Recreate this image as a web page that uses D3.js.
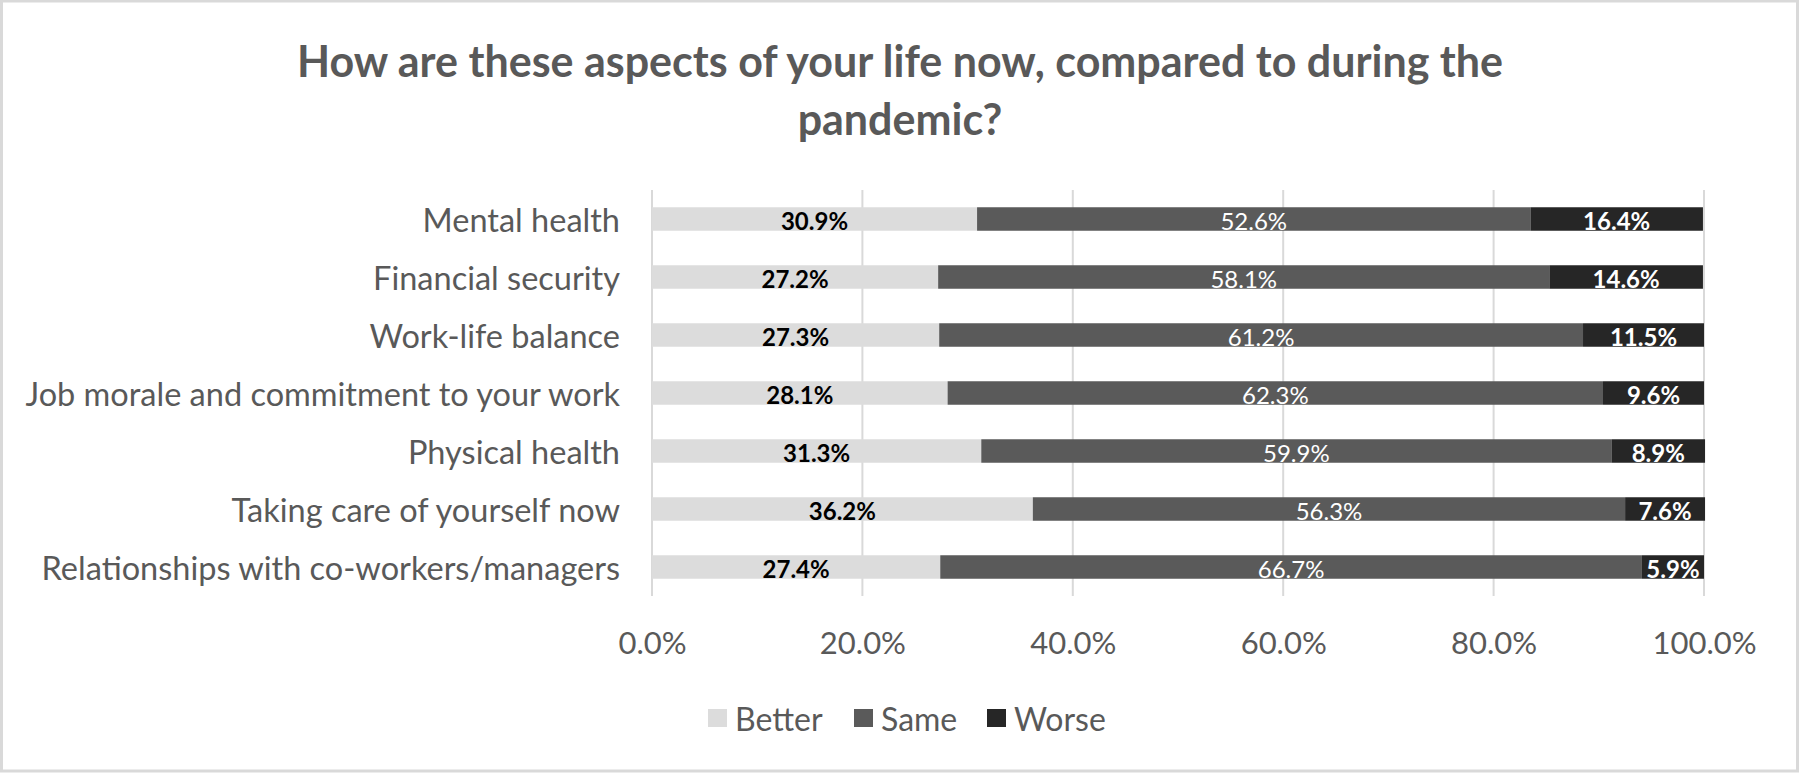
<!DOCTYPE html>
<html>
<head>
<meta charset="utf-8">
<script src="https://cdn.jsdelivr.net/npm/d3@7"></script>
<style>
  html, body { margin: 0; padding: 0; background: #fff; }
  svg { display: block; }
  text { font-family: Lato, "Open Sans", sans-serif; }
</style>
</head>
<body>
<svg id="chart" width="1800" height="775"></svg>
<script>
const categories = [
  "Mental health",
  "Financial security",
  "Work-life balance",
  "Job morale and commitment to your work",
  "Physical health ",
  "Taking care of yourself now",
  "Relationships with co-workers/managers"
];
const better = [30.9, 27.2, 27.3, 28.1, 31.3, 36.2, 27.4];
const same   = [52.6, 58.1, 61.2, 62.3, 59.9, 56.3, 66.7];
const worse  = [16.4, 14.6, 11.5, 9.6, 8.9, 7.6, 5.9];
const seriesNames = ["Better", "Same", "Worse"];
const tickValues = [0, 20, 40, 60, 80, 100];
const titleLines = ["How are these aspects of your life now, compared to during the", "pandemic?"];

const colors = { Better: "#dcdcdc", Same: "#5a5a5a", Worse: "#262626" };
const labelStyle = {
  Better: { fill: "#000000", weight: "bold" },
  Same:   { fill: "#ffffff", weight: "normal" },
  Worse:  { fill: "#ffffff", weight: "bold" }
};
const textGray = "#595959";

const svg = d3.select("#chart");

// outer border
svg.append("rect")
  .attr("x", 1.5).attr("y", 1).attr("width", 1796).attr("height", 770)
  .attr("fill", "#fff").attr("stroke", "#d9d9d9").attr("stroke-width", 3);

// title
svg.append("g").selectAll("text").data(titleLines).join("text")
  .attr("x", 900)
  .attr("y", (d, i) => 60 + i * 58)
  .attr("text-anchor", "middle")
  .attr("dominant-baseline", "central")
  .attr("font-size", 43)
  .attr("font-weight", "bold")
  .attr("fill", textGray)
  .text(d => d);

const x = d3.scaleLinear().domain([0, 100]).range([652, 1704]);
const y = d3.scaleBand().domain(categories).range([190, 596])
  .paddingInner(0.595).paddingOuter(0.2975);

// gridlines
svg.append("g").selectAll("line").data(tickValues).join("line")
  .attr("x1", d => x(d)).attr("x2", d => x(d))
  .attr("y1", 190).attr("y2", 596)
  .attr("stroke", "#d9d9d9").attr("stroke-width", 2);

// x axis tick labels
const xAxis = d3.axisBottom(x).tickValues(tickValues)
  .tickFormat(d => d3.format(".1f")(d) + "%").tickSize(0).tickPadding(0);
const gx = svg.append("g").attr("transform", "translate(0,642)").call(xAxis);
gx.select(".domain").remove();
gx.selectAll("text")
  .attr("dy", null).attr("y", 0)
  .attr("dominant-baseline", "central")
  .attr("font-size", 31)
  .attr("font-family", "Lato, sans-serif")
  .attr("fill", textGray);

// y axis labels
const yAxis = d3.axisLeft(y).tickSize(0).tickPadding(0);
const gy = svg.append("g").attr("transform", "translate(620,0)").call(yAxis);
gy.select(".domain").remove();
gy.selectAll("text")
  .attr("dy", null).attr("x", 0)
  .attr("dominant-baseline", "central")
  .attr("font-size", 32.5)
  .attr("font-family", "Lato, sans-serif")
  .attr("fill", textGray);

// stacked data
const rows = categories.map((c, i) => ({ cat: c, Better: better[i], Same: same[i], Worse: worse[i] }));
const stack = d3.stack().keys(seriesNames)(rows);

const layers = svg.append("g").selectAll("g").data(stack).join("g")
  .attr("fill", d => colors[d.key]);

layers.selectAll("rect").data(d => d).join("rect")
  .attr("x", d => x(d[0]))
  .attr("y", d => y(d.data.cat))
  .attr("width", d => x(d[1]) - x(d[0]))
  .attr("height", y.bandwidth());

// data labels
const lab = svg.append("g").selectAll("g").data(stack).join("g");
lab.each(function(layer) {
  const st = labelStyle[layer.key];
  d3.select(this).selectAll("text").data(layer).join("text")
    .attr("x", d => (x(d[0]) + x(d[1])) / 2)
    .attr("y", d => y(d.data.cat) + y.bandwidth() / 2 + 1)
    .attr("text-anchor", "middle")
    .attr("dominant-baseline", "central")
    .attr("font-size", 24)
    .attr("font-weight", st.weight)
    .attr("fill", st.fill)
    .text(d => d3.format(".1f")(d.data[layer.key]) + "%");
});

// legend
const legendX = [708, 854, 987];
const lg = svg.append("g").selectAll("g").data(seriesNames).join("g")
  .attr("transform", (d, i) => `translate(${legendX[i]},709)`);
lg.append("rect").attr("width", 19).attr("height", 18).attr("fill", d => colors[d]);
lg.append("text")
  .attr("x", 27).attr("y", 9)
  .attr("dominant-baseline", "central")
  .attr("font-size", 32)
  .attr("fill", textGray)
  .text(d => d);
</script>
</body>
</html>
